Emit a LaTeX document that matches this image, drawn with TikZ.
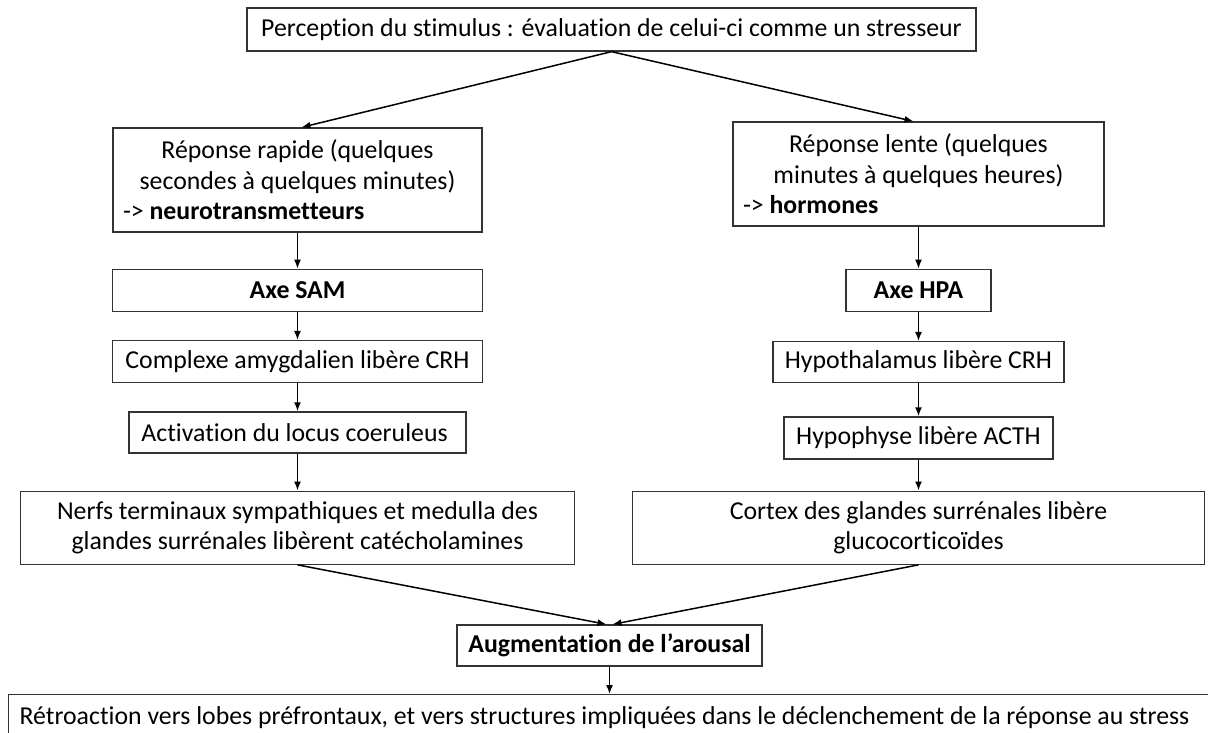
\documentclass[tikz,border=0pt]{standalone}
\usepackage{fontspec}
\setmainfont{Carlito}[Ligatures={TeX,NoCommon}]
\usetikzlibrary{positioning, arrows.meta}

\begin{document}
\begin{tikzpicture}[x=1pt, y=-1pt]
	\tikzset{
		box/.style={
			draw=black!80,
			line width=1.3pt,
			inner xsep=10pt,
			inner ysep=0pt,
			align=flush center,
			minimum height=42pt,
			font=\fontsize{25.8}{30.5}\selectfont,
		},
	}
	\clip (0,0) rectangle (1208,733);

	\node[box, minimum width=729pt, minimum height=43pt] (stim) at (611.5,29.5) {Perception du stimulus : évaluation de celui-ci comme un stresseur};

	\node[box, text width=349pt, minimum height=104pt] (rapide) at (297.5,180) {Réponse rapide (quelques\\secondes à quelques minutes)\\\makebox[\hsize][l]{-> \textbf{neurotransmetteurs}}};
	\node[box, minimum width=370pt, below=36pt of rapide] (sam) {\textbf{Axe SAM}};
	\node[box, minimum width=370pt, below=28pt of sam] (amyg) {Complexe amygdalien libère CRH};
	\node[box, minimum width=337pt, minimum height=41pt, below=28pt of amyg] (locus) {Activation du locus coeruleus\ };
	\node[box, text width=534pt, minimum height=73pt, below=37pt of locus] (nerfs) {Nerfs terminaux sympathiques et medulla des\\glandes surrénales libèrent catécholamines};

	\node[box, text width=351pt, minimum height=104pt] (lente) at (918.5,174) {Réponse lente (quelques\\minutes à quelques heures)\\\makebox[\hsize][l]{-> \textbf{hormones}}};
	\node[box, minimum width=145pt, below=42pt of lente] (hpa) {\textbf{Axe HPA}};
	\node[box, minimum width=291pt, minimum height=41pt, below=29pt of hpa] (hypoth) {Hypothalamus libère CRH};
	\node[box, minimum width=269pt, below=33pt of hypoth] (hypoph) {Hypophyse libère ACTH};
	\node[box, text width=552pt, minimum height=73pt, below=31pt of hypoph] (cortex) {Cortex des glandes surrénales libère\\glucocorticoïdes};

	\node[box, minimum width=305pt, minimum height=41pt] (arousal) at (609.5,645.5) {\textbf{Augmentation de l’arousal}};
	\node[box, text width=1194pt, minimum height=46pt, inner xsep=11pt, align=flush left, anchor=north west] (retro) at (8,694) {Rétroaction vers lobes préfrontaux, et vers structures impliquées dans le déclenchement de la réponse au stress};
	\coordinate (retrotop) at (arousal.south |- retro.north);

	\path[
	->,
	>={Latex[length=9pt, width=7pt]},
	line width=1.5pt,
	]
	(stim.south) edge ([xshift=4pt]rapide.north)
	(stim.south) edge ([xshift=-5pt]lente.north)
	(rapide) edge (sam)
	(sam) edge (amyg)
	(amyg) edge (locus)
	(locus) edge (nerfs)
	(lente) edge (hpa)
	(hpa) edge (hypoth)
	(hypoth) edge (hypoph)
	(hypoph) edge (cortex)
	(nerfs.south) edge ([xshift=-3pt]arousal.north)
	(cortex.south) edge ([xshift=3pt]arousal.north)
	(arousal.south) edge (retrotop);
\end{tikzpicture}
\end{document}
